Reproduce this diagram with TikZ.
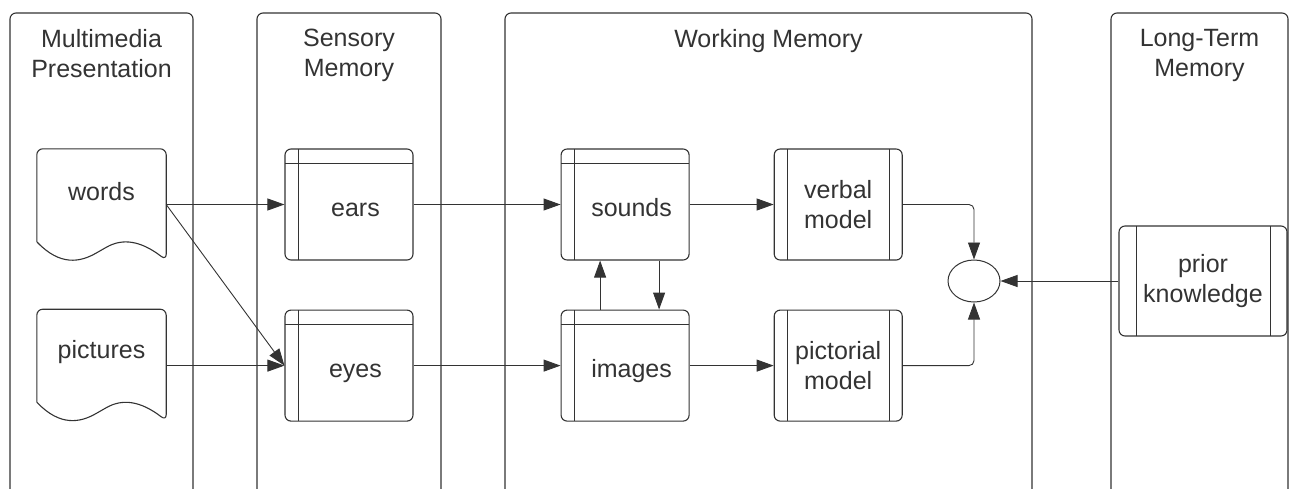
\documentclass[tikz,border=0pt]{standalone}
\usepackage{fontspec}
\setmainfont{Liberation Sans}
\usetikzlibrary{arrows.meta, positioning, shapes.geometric}
\definecolor{ink}{HTML}{333333}

\begin{document}
\begin{tikzpicture}[x=1pt, y=-1pt,
    node distance=49pt,
    font=\fontsize{25}{30}\selectfont,
    lane/.style={draw=ink, line width=1.1pt, rounded corners=6pt},
    lanehead/.style={anchor=north, align=center, inner sep=0pt, text=ink},
    box/.style={rectangle, draw=ink, line width=1.1pt, rounded corners=6pt, text=ink,
        minimum width=128pt, minimum height=111pt, inner sep=0pt},
    store/.style={box, text height=23pt, text depth=0pt,
        execute at begin node={\hspace*{13pt}},
        path picture={
        \draw[ink, line width=1pt] ([yshift=-14pt]path picture bounding box.north west) -- ([yshift=-14pt]path picture bounding box.north east);
        \draw[ink, line width=1pt] ([xshift=13pt]path picture bounding box.north west) -- ([xshift=13pt]path picture bounding box.south west);}},
    proc/.style={box, align=center, path picture={
        \draw[ink, line width=1pt] ([xshift=#1]path picture bounding box.north west) -- ([xshift=#1]path picture bounding box.south west);
        \draw[ink, line width=1pt] ([xshift=-#1]path picture bounding box.north east) -- ([xshift=-#1]path picture bounding box.south east);}},
    proc/.default=13pt,
    doc/.style={rectangle, minimum width=129pt, minimum height=86pt, inner sep=0pt, text=ink},
    docline/.style={draw=ink, line width=1.1pt, rounded corners=6pt},
    meet/.style={ellipse, draw=ink, line width=1pt, minimum width=52pt, minimum height=42pt, inner sep=0pt},
    arrow/.style={-{Triangle[length=17pt, width=12pt]}, draw=ink, line width=0.9pt}]

    \useasboundingbox (0,0) rectangle (1290,488);

    \draw[lane] (10,495) |- (101,13) -| (193,495);
    \draw[lane] (257,495) |- (349,13) -| (441,495);
    \draw[lane] (505,495) |- (768,13) -| (1032,495);
    \draw[lane] (1111,495) |- (1200,13) -| (1288,495);

    \node[lanehead] (mmhead) at (101.5,29) {Multimedia\\Presentation};
    \node[lanehead] (smhead) at (349,29) {Sensory\\Memory};
    \node[lanehead] (wmhead) at (768.5,29) {Working Memory};
    \node[lanehead] (ltmhead) at (1199.5,29) {Long-Term\\Memory};

    \node[doc] (words) at (101.5,192) {words};
    \node[doc, below=74pt of words] (pictures) {pictures};
    \draw[docline] ([yshift=-7pt]words.south west) -- (words.north west) -- (words.north east) -- ([yshift=-25pt]words.south east)
        .. controls +(-26,-20) and +(21,-12) .. ++(-65,-10) .. controls +(-21,12) and +(23,24) .. ++(-64,-8);
    \draw[docline] ([yshift=-7pt]pictures.south west) -- (pictures.north west) -- (pictures.north east) -- ([yshift=-25pt]pictures.south east)
        .. controls +(-26,-20) and +(21,-12) .. ++(-65,-10) .. controls +(-21,12) and +(23,24) .. ++(-64,-8);

    \node[store] (ears) at (349,204.5) {ears};
    \node[store, below=of ears] (eyes) {eyes};
    \node[store, right=147pt of ears] (sounds) {sounds};
    \node[store, below=of sounds] (images) {images};
    \node[proc, right=84pt of sounds] (verbal) {verbal\\model};
    \node[proc, below=of verbal] (pictorial) {pictorial\\model};
    \node[meet] (meet) at (974,281) {};
    \node[proc=17pt, minimum width=168pt, minimum height=110pt] (prior) at (1203,281) {prior\\knowledge};

    \draw[arrow] (words.east |- ears.west) -- (ears.west);
    \draw[arrow] (words.east |- ears.west) -- (eyes.west);
    \draw[arrow] (pictures.east |- eyes.west) -- (eyes.west);
    \draw[arrow] (ears.east) -- (sounds.west);
    \draw[arrow] (eyes.east) -- (images.west);
    \draw[arrow] (sounds.east) -- (verbal.west);
    \draw[arrow] (images.east) -- (pictorial.west);
    \draw[arrow] ([xshift=-25pt]images.north) -- ([xshift=-25pt]sounds.south);
    \draw[arrow] ([xshift=34pt]sounds.south) -- ([xshift=34pt]images.north);
    \draw[arrow, rounded corners=5pt] (verbal.east) -| (meet.north);
    \draw[arrow, rounded corners=5pt] (pictorial.east) -| (meet.south);
    \draw[arrow] (prior.west) -- (meet.east);
\end{tikzpicture}
\end{document}
